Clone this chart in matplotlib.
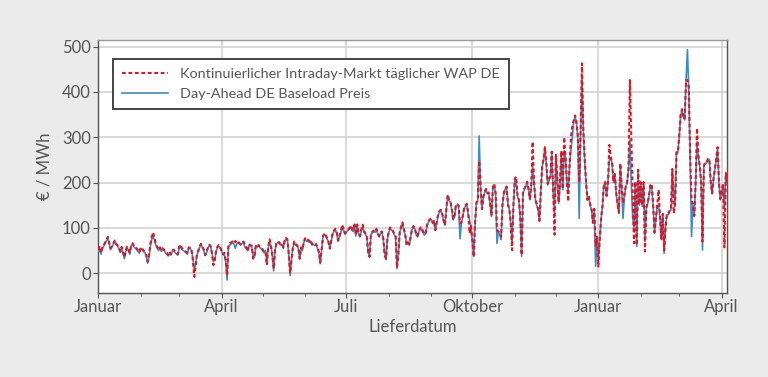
import matplotlib
matplotlib.use("Agg")
import matplotlib.pyplot as plt
import matplotlib.dates as mdates
import pandas as pd
import numpy as np

# ---------------- data (daily, starting 2021-01-01) ----------------
start_date = "2021-01-01"

day_ahead = [
    48, 52, 42,
    55, 60, 66, 72, 77, 65, 52,
    58, 64, 70, 66, 60, 55, 46,
    55, 45, 32, 48, 55, 50, 42,
    60, 64, 58, 55, 52, 48, 44,
    55, 52, 48, 45, 38, 22, 35,
    60, 75, 82, 72, 62, 56, 50,
    55, 48, 52, 50, 45, 42, 38,
    45, 40, 48, 50, 46, 42, 40,
    55, 60, 52, 50, 48, 45, 42,
    55, 55, 50, 35, 8, 20, 40,
    48, 58, 62, 57, 50, 39, 45,
    55, 61, 58, 45, 25, 30, 48,
    57, 60, 55, 48, 40, 42, 25,
    -15, 58, 62, 65, 68, 64, 55,
    65, 68, 64, 62, 66, 68, 58,
    55, 50, 62, 60, 58, 40, 35,
    61, 58, 60, 56, 54, 50, 45,
    50, 22, 55, 68, 60, 40, 5,
    50, 65, 68, 66, 62, 64, 55,
    70, 76, 72, 45, -5, 30, 55,
    68, 62, 60, 55, 32, 55, 50,
    68, 75, 70, 72, 68, 71, 62,
    64, 61, 62, 55, 45, 21, 50,
    80, 86, 82, 75, 70, 55, 70,
    85, 92, 96, 88, 71, 80, 90,
    98, 96, 86, 90, 94, 96, 103,
    96, 92, 105, 82, 108, 86, 80,
    95, 103, 90, 86, 80, 45, 38,
    85, 89, 92, 90, 96, 86, 80,
    88, 90, 75, 45, 30, 75, 90,
    99, 95, 92, 85, 80, 10, 40,
    90, 100, 110, 95, 85, 64, 66,
    62, 80, 96, 102, 98, 85, 80,
    92, 98, 95, 90, 84, 88, 105,
    113, 117, 118, 110, 115, 95, 110,
    127, 135, 138, 130, 115, 106, 140,
    171, 160, 157, 140, 118, 124, 149,
    150, 147, 76, 110, 124, 142, 148,
    151, 130, 117, 102, 70, 37, 110,
    154, 160, 303, 190, 140, 165, 178,
    184, 175, 176, 150, 125, 189, 195,
    175, 66, 90, 87, 74, 150, 175,
    186, 191, 154, 140, 110, 65, 150,
    206, 200, 169, 160, 120, 37, 176,
    185, 191, 202, 184, 162, 190, 239,
    200, 162, 150, 140, 114, 180, 235,
    250, 276, 240, 195, 205, 213, 268,
    180, 130, 255, 210, 154, 190, 268,
    184, 270, 257, 200, 180, 240, 272,
    300, 335, 346, 331, 300, 121, 300,
    434, 316, 250, 199, 162, 169, 150,
    140, 110, 140, 15, 81, 30, 74,
    120, 147, 195, 199, 169, 200, 250,
    254, 243, 200, 217, 176, 150, 132,
    240, 190, 121, 170, 191, 199, 230,
    294, 200, 125, 100, 200, 59, 228,
    150, 199, 147, 199, 70, 143, 154,
    170, 195, 190, 147, 88, 120, 150,
    150, 120, 74, 129, 44, 100, 129,
    129, 136, 140, 228, 180, 150, 265,
    265, 300, 346, 360, 345, 338, 426,
    493, 404, 250, 81, 150, 125, 200,
    290, 257, 235, 200, 51, 235, 243,
    243, 250, 250, 200, 176, 206, 228,
    250, 276, 200, 162, 180, 195, 140,
    221, 200,
]

intraday_wap = [
    52, 60, 45,
    58, 62, 68, 75, 80, 66, 55,
    60, 66, 72, 64, 62, 57, 48,
    58, 48, 35, 50, 58, 52, 45,
    62, 66, 60, 57, 55, 50, 46,
    57, 54, 50, 47, 40, 25, 38,
    65, 80, 90, 78, 65, 58, 52,
    57, 50, 55, 52, 47, 45, 40,
    47, 42, 50, 52, 48, 45, 42,
    58, 63, 55, 52, 50, 47, 45,
    57, 56, 52, 30, -8, 15, 42,
    50, 60, 65, 58, 52, 40, 47,
    57, 63, 60, 42, 18, 28, 50,
    59, 62, 57, 50, 42, 45, 28,
    -5, 62, 66, 68, 70, 66, 71,
    67, 70, 66, 64, 68, 70, 60,
    57, 48, 64, 62, 60, 32, 38,
    63, 60, 62, 58, 56, 52, 47,
    48, 18, 58, 75, 62, 38, 10,
    52, 67, 70, 68, 64, 66, 57,
    72, 78, 74, 42, 0, 28, 57,
    70, 64, 62, 57, 32, 57, 52,
    70, 77, 72, 74, 70, 73, 64,
    66, 63, 64, 57, 47, 24, 52,
    82, 88, 84, 77, 68, 54, 72,
    88, 94, 98, 90, 72, 82, 92,
    107, 98, 88, 92, 96, 98, 105,
    98, 94, 111, 84, 107, 88, 82,
    97, 107, 92, 88, 82, 45, 36,
    87, 91, 94, 92, 98, 88, 82,
    90, 92, 77, 39, 32, 77, 92,
    101, 97, 94, 87, 82, 12, 42,
    92, 102, 112, 97, 87, 62, 68,
    64, 82, 98, 104, 100, 87, 82,
    94, 100, 102, 92, 86, 90, 107,
    115, 119, 120, 112, 117, 95, 112,
    130, 137, 140, 132, 117, 106, 142,
    173, 162, 159, 142, 120, 126, 151,
    152, 149, 110, 112, 126, 144, 150,
    153, 132, 88, 104, 72, 36, 112,
    156, 162, 248, 195, 142, 168, 180,
    186, 177, 178, 152, 127, 191, 197,
    177, 95, 92, 89, 80, 152, 178,
    186, 191, 150, 142, 112, 51, 152,
    208, 213, 171, 162, 122, 40, 178,
    187, 193, 202, 186, 164, 192, 290,
    202, 164, 152, 142, 116, 182, 237,
    252, 278, 242, 197, 207, 215, 268,
    182, 85, 261, 212, 156, 206, 270,
    186, 300, 259, 202, 158, 242, 301,
    324, 337, 348, 333, 302, 200, 310,
    463, 318, 252, 201, 162, 171, 152,
    142, 112, 142, 60, 80, 15, 76,
    122, 149, 197, 201, 171, 202, 283,
    256, 245, 202, 219, 178, 152, 134,
    242, 192, 154, 172, 193, 201, 232,
    426, 300, 180, 66, 202, 62, 228,
    152, 201, 149, 201, 48, 145, 156,
    172, 197, 192, 149, 90, 122, 152,
    184, 122, 76, 131, 50, 102, 131,
    131, 138, 142, 230, 132, 152, 267,
    267, 302, 348, 362, 347, 340, 426,
    426, 410, 252, 162, 150, 127, 202,
    320, 259, 237, 202, 70, 237, 245,
    245, 252, 252, 202, 176, 208, 230,
    252, 278, 202, 164, 182, 197, 57,
    221, 202,
]

label_intraday = "Kontinuierlicher Intraday-Markt täglicher WAP DE"
label_dayahead = "Day-Ahead DE Baseload Preis"
major_tick_dates = ["2021-01-01", "2021-04-01", "2021-07-01", "2021-10-01", "2022-01-01", "2022-04-01"]
major_tick_labels = ["Januar", "April", "Juli", "Oktober", "Januar", "April"]
y_ticks = [0, 100, 200, 300, 400, 500]
x_label = "Lieferdatum"
y_label = "€ / MWh"

assert len(day_ahead) == len(intraday_wap), (len(day_ahead), len(intraday_wap))
dates = pd.date_range(start_date, periods=len(day_ahead), freq="D")

# ---------------- style ----------------
plt.rcParams["font.family"] = ["Lato", "DejaVu Sans"]
txt = "#555555"
bg = "#ebebeb"

fig = plt.figure(figsize=(7.68, 3.77), dpi=100, facecolor=bg)
ax = fig.add_axes([0.128, 0.223, 0.819, 0.671])
ax.set_facecolor("white")

ax.plot(dates, day_ahead, color="#3d8cc6", lw=1.2, label=label_dayahead, zorder=3)
ax.plot(dates, intraday_wap, color="#e3141e", lw=1.5, ls=(0, (1.8, 1.3)),
        label=label_intraday, zorder=4)

x0 = pd.Timestamp(start_date)
ax.set_xlim(x0, x0 + pd.Timedelta(days=459.1))
ax.set_ylim(-43.5, 514.5)
ax.set_yticks(y_ticks)
ax.set_xticks(pd.to_datetime(major_tick_dates))
ax.set_xticklabels(major_tick_labels)
ax.xaxis.set_minor_locator(mdates.MonthLocator())

ax.grid(True, which="major", color="#d0d0d0", lw=1.1)
ax.set_axisbelow(True)
for s in ax.spines.values():
    s.set_color("#555555")
    s.set_linewidth(1.0)
ax.spines["top"].set_color("#999999")
ax.tick_params(axis="both", which="major", length=3.5, color="#555555",
               labelsize=12, labelcolor=txt, pad=2)
ax.tick_params(axis="x", which="major", pad=1)
ax.tick_params(axis="x", which="minor", length=2.5, color="#555555")

ax.set_xlabel(x_label, fontsize=12, color=txt, labelpad=3)
ax.set_ylabel(y_label, fontsize=12, color=txt, labelpad=7)

handles, labels = ax.get_legend_handles_labels()
leg = ax.legend(handles[::-1], labels[::-1], loc="upper left",
                bbox_to_anchor=(0.0232, 0.925), borderaxespad=0,
                fancybox=False, framealpha=1,
                edgecolor="#444444", fontsize=10.4, handlelength=3.15,
                borderpad=0.65, labelspacing=0.5, handletextpad=0.85)
leg.get_frame().set_linewidth(1.4)
for t in leg.get_texts():
    t.set_color(txt)

fig.savefig("out.png", dpi=100, facecolor=bg)
